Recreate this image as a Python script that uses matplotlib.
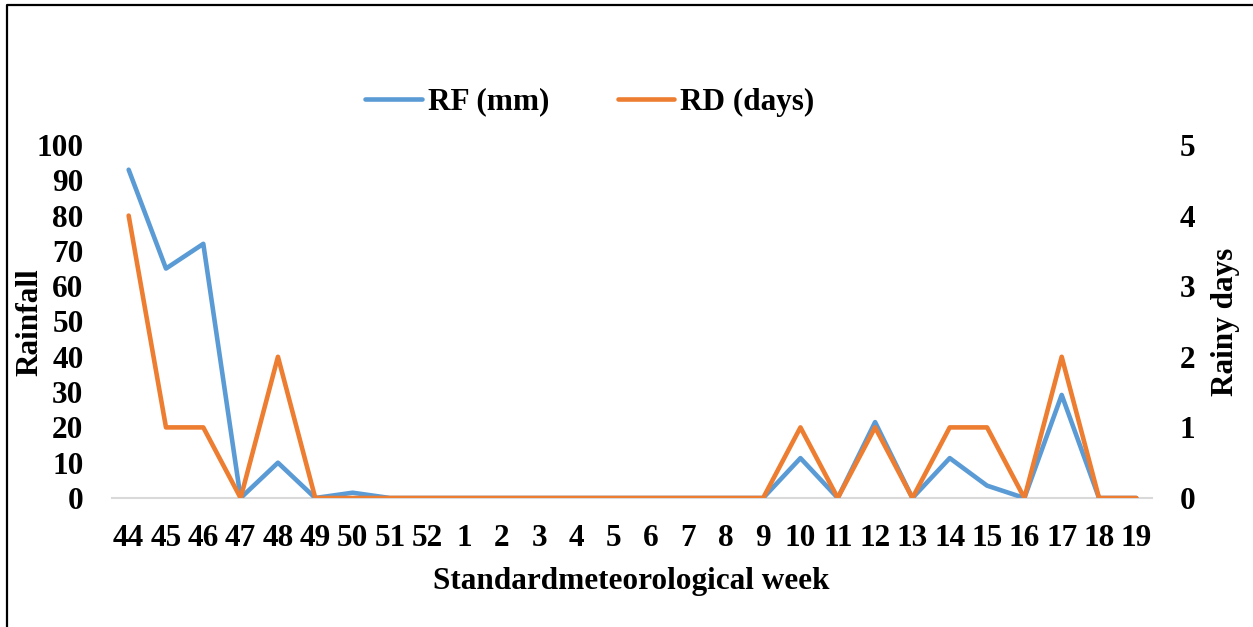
import matplotlib
matplotlib.use('Agg')
from matplotlib import pyplot
from matplotlib.lines import Line2D

weeks = ['44', '45', '46', '47', '48', '49', '50', '51', '52', '1', '2', '3', '4',
         '5', '6', '7', '8', '9', '10', '11', '12', '13', '14', '15', '16', '17', '18', '19']
rf_mm = [93, 65, 72, 0, 10, 0, 1.5, 0, 0, 0, 0, 0, 0, 0, 0, 0, 0, 0,
         11.3, 0, 21.5, 0, 11.3, 3.5, 0, 29.2, 0, 0]
rd_days = [4, 1, 1, 0, 2, 0, 0, 0, 0, 0, 0, 0, 0, 0, 0, 0, 0, 0,
           1, 0, 1, 0, 1, 1, 0, 2, 0, 0]

pyplot.rcParams['font.family'] = 'Liberation Serif'
pyplot.rcParams['font.weight'] = 'bold'

blue = '#5B9BD5'
orange = '#ED7D31'
fs = 22.5
lw = 3.3
W, H = 1253, 627

fig = pyplot.figure(figsize=(12.53, 6.27), dpi=100)
ax = fig.add_axes([110/W, 1-498/H, (1155-110)/W, (498-145)/H])
ax2 = ax.twinx()

x = list(range(len(weeks)))
ax.axhline(0, xmin=0.002, xmax=0.997, color='#D9D9D9', linewidth=1.5, zorder=1, clip_on=False)
ax.plot(x, rf_mm, color=blue, linewidth=lw, solid_joinstyle='round', solid_capstyle='round', zorder=3)
ax2.plot(x, rd_days, color=orange, linewidth=lw, solid_joinstyle='round', solid_capstyle='round', zorder=3)

ax.set_xlim(-0.5, len(weeks) - 0.5)
ax.set_ylim(0, 100)
ax2.set_ylim(0, 5)
ax.set_yticks(range(0, 101, 10))
ax2.set_yticks(range(0, 6))
ax.set_xticks(x)
ax.set_xticklabels(weeks)

for a in (ax, ax2):
    for s in a.spines.values():
        s.set_visible(False)
    a.tick_params(length=0, labelsize=fs)
ax.tick_params(axis='y', pad=19)
ax2.tick_params(axis='y', pad=18)
ax.tick_params(axis='x', pad=19)

fig.text(30/W, 1-322/H, 'Rainfall', rotation=90, ha='center', va='center', fontsize=fs, fontweight='bold')
fig.text(1225/W, 1-322/H, 'Rainy days', rotation=90, ha='center', va='center', fontsize=fs, fontweight='bold')
fig.text(631/W, 1-582/H, 'Standardmeteorological week', ha='center', va='center', fontsize=fs, fontweight='bold')

handles = [Line2D([], [], color=blue, linewidth=lw, solid_capstyle='round'),
           Line2D([], [], color=orange, linewidth=lw, solid_capstyle='round')]
fig.legend(handles, ['RF (mm)', 'RD (days)'], loc='center', bbox_to_anchor=(590/W, 1-102/H),
           ncol=2, frameon=False, fontsize=fs, handlelength=1.8, handletextpad=0.2, columnspacing=2.2)

# chart frame (only left and top edges visible in the picture)
fig.add_artist(Line2D([7/W, 7/W, 1.0], [0.0, 1-5/H, 1-5/H], transform=fig.transFigure,
                      color='black', linewidth=1.6))

pyplot.savefig('out.png', dpi=100)
